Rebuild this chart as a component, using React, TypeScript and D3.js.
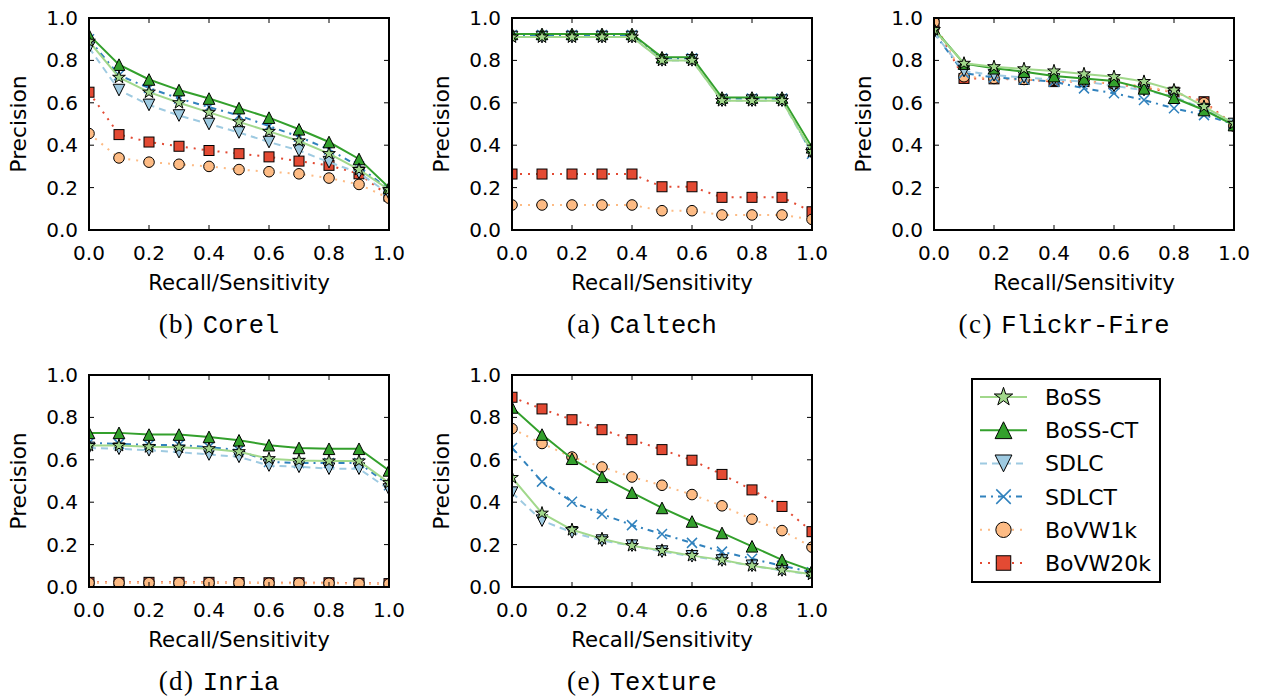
import { useRef, useEffect } from "react";
import * as d3 from "d3";

// recall levels shared by every panel
const recall = [0, 0.1, 0.2, 0.3, 0.4, 0.5, 0.6, 0.7, 0.8, 0.9, 1.0];
const tickValues = [0, 0.2, 0.4, 0.6, 0.8, 1.0];
const methods = ["BoSS", "BoSS-CT", "SDLC", "SDLCT", "BoVW1k", "BoVW20k"];

// (b) Corel
const corelBoSS = [0.89, 0.72, 0.65, 0.6, 0.555, 0.51, 0.465, 0.42, 0.36, 0.285, 0.19];
const corelBoSSCT = [0.92, 0.78, 0.71, 0.66, 0.62, 0.575, 0.53, 0.475, 0.415, 0.335, 0.2];
const corelSDLC = [0.86, 0.66, 0.59, 0.54, 0.5, 0.46, 0.415, 0.375, 0.32, 0.27, 0.17];
const corelSDLCT = [0.9, 0.73, 0.67, 0.62, 0.58, 0.54, 0.49, 0.44, 0.38, 0.3, 0.19];
const corelBoVW1k = [0.455, 0.34, 0.32, 0.31, 0.3, 0.285, 0.275, 0.265, 0.245, 0.215, 0.15];
const corelBoVW20k = [0.65, 0.45, 0.415, 0.395, 0.375, 0.36, 0.345, 0.325, 0.305, 0.265, 0.16];

// (a) Caltech
const caltechBoSS = [0.91, 0.91, 0.91, 0.91, 0.91, 0.8, 0.8, 0.61, 0.61, 0.61, 0.37];
const caltechBoSSCT = [0.925, 0.925, 0.925, 0.925, 0.925, 0.815, 0.815, 0.625, 0.625, 0.625, 0.39];
const caltechSDLC = [0.91, 0.91, 0.91, 0.91, 0.91, 0.8, 0.8, 0.61, 0.61, 0.61, 0.36];
const caltechSDLCT = [0.92, 0.92, 0.92, 0.92, 0.92, 0.81, 0.81, 0.62, 0.62, 0.62, 0.36];
const caltechBoVW1k = [0.118, 0.118, 0.118, 0.118, 0.118, 0.091, 0.091, 0.071, 0.071, 0.071, 0.05];
const caltechBoVW20k = [0.264, 0.264, 0.264, 0.264, 0.264, 0.204, 0.204, 0.154, 0.154, 0.154, 0.086];

// (c) Flickr-Fire
const flickrBoSS = [0.945, 0.786, 0.77, 0.76, 0.75, 0.736, 0.723, 0.7, 0.66, 0.582, 0.503];
const flickrBoSSCT = [0.95, 0.785, 0.763, 0.747, 0.726, 0.715, 0.703, 0.668, 0.624, 0.566, 0.495];
const flickrSDLC = [0.93, 0.75, 0.73, 0.72, 0.71, 0.7, 0.68, 0.66, 0.63, 0.57, 0.5];
const flickrSDLCT = [0.93, 0.74, 0.72, 0.71, 0.7, 0.668, 0.645, 0.613, 0.574, 0.542, 0.5];
const flickrBoVW1k = [0.98, 0.723, 0.715, 0.71, 0.706, 0.7, 0.69, 0.68, 0.65, 0.6, 0.49];
const flickrBoVW20k = [0.97, 0.715, 0.713, 0.71, 0.7, 0.7, 0.69, 0.67, 0.65, 0.605, 0.495];

// (d) Inria
const inriaBoSS = [0.667, 0.667, 0.661, 0.659, 0.652, 0.638, 0.605, 0.597, 0.594, 0.594, 0.492];
const inriaBoSSCT = [0.727, 0.727, 0.719, 0.719, 0.708, 0.692, 0.669, 0.656, 0.652, 0.652, 0.55];
const inriaSDLC = [0.656, 0.652, 0.645, 0.636, 0.625, 0.614, 0.573, 0.567, 0.558, 0.558, 0.46];
const inriaSDLCT = [0.68, 0.675, 0.67, 0.67, 0.66, 0.645, 0.59, 0.585, 0.585, 0.585, 0.48];
const inriaBoVW1k = [0.02, 0.02, 0.02, 0.02, 0.02, 0.02, 0.018, 0.018, 0.018, 0.016, 0.015];
const inriaBoVW20k = [0.022, 0.022, 0.022, 0.022, 0.022, 0.021, 0.02, 0.02, 0.02, 0.018, 0.016];

// (e) Texture
const textureBoSS = [0.516, 0.348, 0.27, 0.227, 0.195, 0.172, 0.148, 0.128, 0.1, 0.08, 0.06];
const textureBoSSCT = [0.847, 0.719, 0.605, 0.52, 0.445, 0.373, 0.309, 0.255, 0.192, 0.128, 0.078];
const textureSDLC = [0.445, 0.313, 0.258, 0.219, 0.195, 0.167, 0.145, 0.125, 0.1, 0.078, 0.058];
const textureSDLCT = [0.656, 0.497, 0.402, 0.344, 0.292, 0.25, 0.208, 0.167, 0.133, 0.1, 0.07];
const textureBoVW1k = [0.747, 0.677, 0.613, 0.566, 0.519, 0.48, 0.436, 0.383, 0.32, 0.266, 0.188];
const textureBoVW20k = [0.895, 0.84, 0.789, 0.742, 0.695, 0.648, 0.598, 0.531, 0.458, 0.38, 0.261];

const styles = {
  BoSS: { color: "#a1d88b", dash: null, marker: "star" },
  "BoSS-CT": { color: "#33a02c", dash: null, marker: "up" },
  SDLC: { color: "#9ecae1", dash: "7,5", marker: "down" },
  SDLCT: { color: "#3182bd", dash: "6,5,2,5", marker: "x" },
  BoVW1k: { color: "#fdbb84", dash: "2,6", marker: "circle" },
  BoVW20k: { color: "#e34a33", dash: "2,6", marker: "square" },
};

const W = 300;
const H = 212;

const panels = [
  { tag: "(b) ", name: "Corel", x: 89, y: 18, series: [corelBoSS, corelBoSSCT, corelSDLC, corelSDLCT, corelBoVW1k, corelBoVW20k] },
  { tag: "(a) ", name: "Caltech", x: 512, y: 18, series: [caltechBoSS, caltechBoSSCT, caltechSDLC, caltechSDLCT, caltechBoVW1k, caltechBoVW20k] },
  { tag: "(c) ", name: "Flickr-Fire", x: 934, y: 18, series: [flickrBoSS, flickrBoSSCT, flickrSDLC, flickrSDLCT, flickrBoVW1k, flickrBoVW20k] },
  { tag: "(d) ", name: "Inria", x: 89, y: 375, series: [inriaBoSS, inriaBoSSCT, inriaSDLC, inriaSDLCT, inriaBoVW1k, inriaBoVW20k] },
  { tag: "(e) ", name: "Texture", x: 512, y: 375, series: [textureBoSS, textureBoSSCT, textureSDLC, textureSDLCT, textureBoVW1k, textureBoVW20k] },
];

const SANS = "'DejaVu Sans', sans-serif";

// draw a matplotlib-like marker centred at 0,0
const drawMarker = (g, kind, color, scale) => {
  const s = scale;
  if (kind === "star") {
    g.append("path")
      .attr("d", d3.symbol().type(d3.symbolStar).size(50 * s * s)())
      .attr("fill", color)
      .attr("stroke", "#000")
      .attr("stroke-width", 1);
  } else if (kind === "up" || kind === "down") {
    const r = 5.8 * s;
    const d = kind === "up"
      ? `M0,${-r}L${r},${r}L${-r},${r}Z`
      : `M0,${r}L${r},${-r}L${-r},${-r}Z`;
    g.append("path").attr("d", d).attr("fill", color).attr("stroke", "#000").attr("stroke-width", 1);
  } else if (kind === "x") {
    const r = 5 * s;
    g.append("path")
      .attr("d", `M${-r},${-r}L${r},${r}M${-r},${r}L${r},${-r}`)
      .attr("fill", "none")
      .attr("stroke", color)
      .attr("stroke-width", 1.5);
  } else if (kind === "circle") {
    g.append("circle").attr("r", 5.3 * s).attr("fill", color).attr("stroke", "#000").attr("stroke-width", 1);
  } else if (kind === "square") {
    const h = 5 * s;
    g.append("rect")
      .attr("x", -h).attr("y", -h).attr("width", 2 * h).attr("height", 2 * h)
      .attr("fill", color).attr("stroke", "#000").attr("stroke-width", 1);
  }
};

const App = () => {
  const svgRef = useRef(null);

  useEffect(() => {
    const svg = d3.select(svgRef.current);
    svg.selectAll("*").remove();

    const xScale = d3.scaleLinear().domain([0, 1]).range([0, W]);
    const yScale = d3.scaleLinear().domain([0, 1]).range([H, 0]);
    const fmt = d3.format(".1f");

    panels.forEach((p, pi) => {
      const g = svg.append("g").attr("transform", `translate(${p.x},${p.y})`);

      const clipId = `clip-${pi}`;
      g.append("clipPath").attr("id", clipId)
        .append("rect").attr("width", W).attr("height", H);

      const plot = g.append("g").attr("clip-path", `url(#${clipId})`);

      // draw in reverse order so BoSS ends on top
      for (let k = methods.length - 1; k >= 0; k--) {
        const st = styles[methods[k]];
        const vals = p.series[k];
        const pts = recall.map((r, i) => [r, vals[i]]);
        const line = d3.line().x((d) => xScale(d[0])).y((d) => yScale(d[1]));
        plot.append("path")
          .attr("d", line(pts))
          .attr("fill", "none")
          .attr("stroke", st.color)
          .attr("stroke-width", 2)
          .attr("stroke-dasharray", st.dash);
        pts.forEach((d) => {
          const mg = plot.append("g").attr("transform", `translate(${xScale(d[0])},${yScale(d[1])})`);
          drawMarker(mg, st.marker, st.color, 1);
        });
      }

      // inward ticks on all four sides
      tickValues.forEach((t) => {
        const x = xScale(t);
        const y = yScale(t);
        g.append("line").attr("x1", x).attr("x2", x).attr("y1", H).attr("y2", H - 5).attr("stroke", "#000");
        g.append("line").attr("x1", x).attr("x2", x).attr("y1", 0).attr("y2", 5).attr("stroke", "#000");
        g.append("line").attr("x1", 0).attr("x2", 5).attr("y1", y).attr("y2", y).attr("stroke", "#000");
        g.append("line").attr("x1", W).attr("x2", W - 5).attr("y1", y).attr("y2", y).attr("stroke", "#000");

        g.append("text")
          .attr("x", x).attr("y", H + 30)
          .attr("text-anchor", "middle")
          .attr("font-family", SANS).attr("font-size", 20)
          .text(fmt(t));
        g.append("text")
          .attr("x", -11).attr("y", y + 7)
          .attr("text-anchor", "end")
          .attr("font-family", SANS).attr("font-size", 20)
          .text(fmt(t));
      });

      g.append("rect")
        .attr("width", W).attr("height", H)
        .attr("fill", "none").attr("stroke", "#000").attr("stroke-width", 2);

      g.append("text")
        .attr("x", W / 2).attr("y", H + 60)
        .attr("text-anchor", "middle")
        .attr("font-family", SANS).attr("font-size", 21.3)
        .text("Recall/Sensitivity");

      g.append("text")
        .attr("transform", `translate(${-63},${H / 2}) rotate(-90)`)
        .attr("text-anchor", "middle")
        .attr("font-family", SANS).attr("font-size", 21.8)
        .text("Precision");

      const cap = g.append("text")
        .attr("x", W / 2 - 20).attr("y", H + 103)
        .attr("text-anchor", "middle")
        .attr("font-size", 25);
      cap.append("tspan")
        .attr("font-family", "'Liberation Serif', serif")
        .attr("font-size", 27)
        .attr("letter-spacing", 1.5)
        .text(p.tag);
      cap.append("tspan")
        .attr("font-family", "'Liberation Mono', monospace")
        .attr("font-size", 25.5)
        .attr("font-weight", 300)
        .text(p.name);
    });

    // legend
    const lg = svg.append("g").attr("transform", "translate(972,379)");
    lg.append("rect")
      .attr("width", 188).attr("height", 203)
      .attr("fill", "#fff").attr("stroke", "#000").attr("stroke-width", 2);
    methods.forEach((m, i) => {
      const st = styles[m];
      const cy = 18 + i * 33.2;
      lg.append("line")
        .attr("x1", 8).attr("x2", 55).attr("y1", cy).attr("y2", cy)
        .attr("stroke", st.color).attr("stroke-width", 2)
        .attr("stroke-dasharray", st.dash);
      const mg = lg.append("g").attr("transform", `translate(31.5,${cy})`);
      drawMarker(mg, st.marker, st.color, 1.45);
      lg.append("text")
        .attr("x", 73).attr("y", cy + 8)
        .attr("font-family", SANS).attr("font-size", 22)
        .text(m);
    });
  }, []);

  return (
    <svg
      ref={svgRef}
      width={1268}
      height={700}
      style={{ position: "absolute", left: 0, top: 0, background: "#fff" }}
    ></svg>
  );
};

export default App;
